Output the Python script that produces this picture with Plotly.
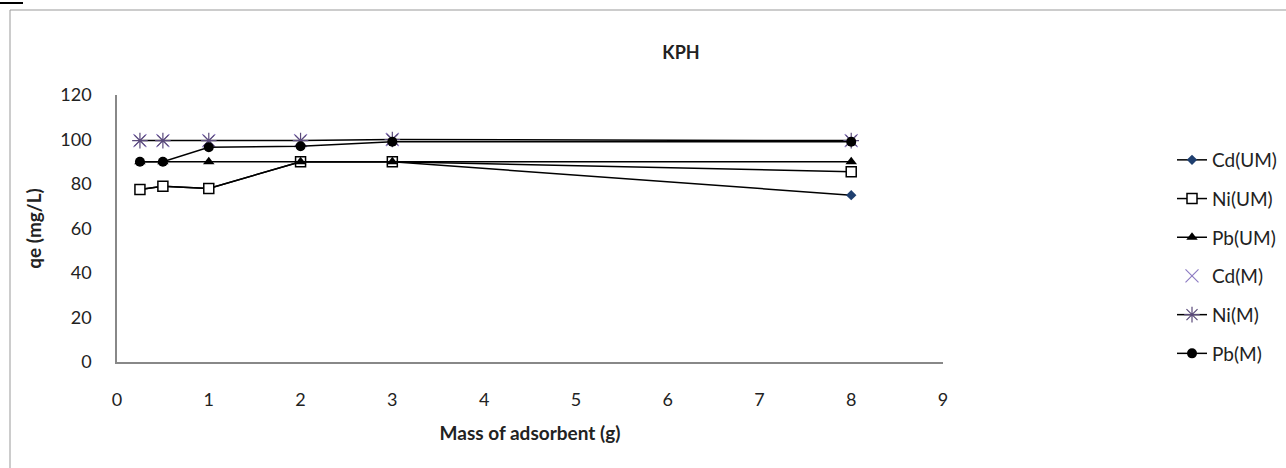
import plotly.graph_objects as go

mass = [0.25, 0.5, 1, 2, 3, 8]
cd_um = [77.5, 79.0, 78.0, 90.0, 90.0, 75.0]
ni_um = [77.5, 79.0, 78.0, 90.0, 90.0, 85.5]
pb_um = [90.0, 90.0, 90.0, 90.0, 90.0, 90.0]
cd_m = [99.5, 99.5, 99.5, 99.5, 100.0, 99.5]
ni_m = [99.5, 99.5, 99.5, 99.5, 100.0, 99.5]
pb_m = [90.0, 90.0, 96.5, 97.0, 99.0, 99.0]

series = [
    ("Cd(UM)", cd_um, "lines+markers", dict(symbol="diamond", size=8, color="#1f3f6f")),
    ("Ni(UM)", ni_um, "lines+markers", dict(symbol="square", size=10, color="white", line=dict(color="black", width=1.5))),
    ("Pb(UM)", pb_um, "lines+markers", dict(symbol="triangle-up", size=10, color="black")),
    ("Cd(M)", cd_m, "markers", dict(symbol="x-thin-open", size=13, color="#8e7cc3", line=dict(color="#8e7cc3", width=1.2))),
    ("Ni(M)", ni_m, "lines+markers", dict(symbol="asterisk-open", size=13, color="#5a4a7a", line=dict(color="#5a4a7a", width=1.2))),
    ("Pb(M)", pb_m, "lines+markers", dict(symbol="circle", size=10, color="black")),
]

fig = go.Figure()
for i, (name, ys, mode, marker) in enumerate(series):
    fig.add_trace(go.Scatter(
        x=mass, y=ys, name=name, mode=mode, marker=marker,
        line=dict(color="black", width=1.5), legendgroup=f"g{i}",
    ))

L, R, T, B = 117, 943, 95, 362
W, H = 1286, 468
pw, ph = R - L, B - T

def px(x):
    return (x - L) / pw

def py(y):
    return (B - y) / ph

fig.update_layout(
    width=W, height=H,
    margin=dict(l=L, r=W - R, t=T, b=H - B, autoexpand=False),
    paper_bgcolor="white", plot_bgcolor="white",
    font=dict(family="Lato, Open Sans, sans-serif", size=18, color="#222"),
    title=dict(text="<b>KPH</b>", x=681 / W, xanchor="center", y=1 - 53 / H, yanchor="middle",
               font=dict(size=18, color="#222")),
    xaxis=dict(range=[0, 9], tickmode="linear", tick0=0, dtick=1, showgrid=False, zeroline=False,
               showline=True, linecolor="#888", linewidth=1.5, ticks="", ticklabelstandoff=21,
               title=dict(text="<b>Mass of adsorbent (g)</b>", font=dict(size=19), standoff=17)),
    yaxis=dict(range=[0, 120], tickmode="linear", tick0=0, dtick=20, showgrid=False, zeroline=False,
               showline=True, linecolor="#888", linewidth=1.5, ticks="", ticklabelstandoff=20,
               title=dict(text="<b>qe (mg/L)</b>", font=dict(size=19), standoff=14)),
    legend=dict(x=px(1172), y=py(141), xanchor="left", yanchor="top", tracegroupgap=11,
                font=dict(size=19, color="#222"), bgcolor="rgba(0,0,0,0)"),
    shapes=[
        dict(type="rect", xref="paper", yref="paper", x0=px(10), x1=px(1300), y0=py(480), y1=py(10),
             line=dict(color="#999", width=1), layer="below"),
        dict(type="line", xref="paper", yref="paper", x0=px(0), x1=px(23), y0=py(3), y1=py(3),
             line=dict(color="black", width=2)),
    ],
)

fig.write_html("out.html")
